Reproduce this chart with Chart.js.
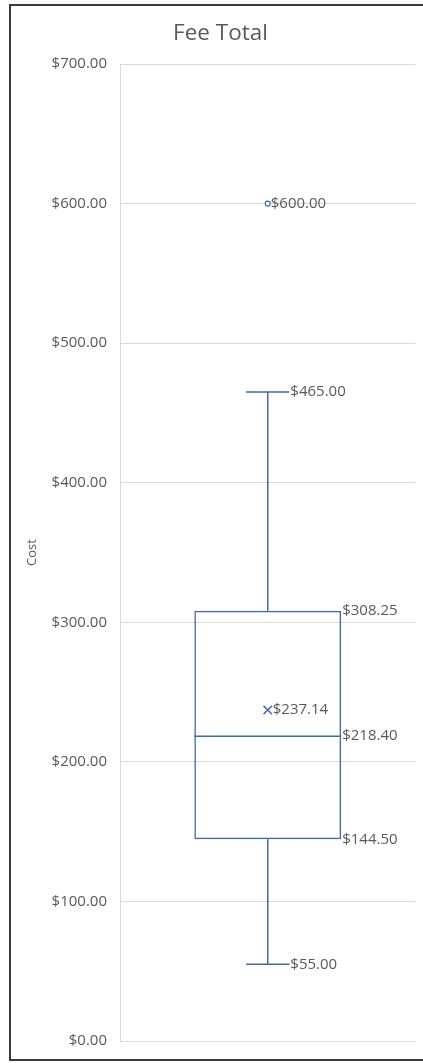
<!DOCTYPE html>
<html>
<head>
<meta charset="utf-8">
<title>Fee Total</title>
<script src="https://cdn.jsdelivr.net/npm/chart.js@4.4.0/dist/chart.umd.min.js"></script>
<style>
  html, body { margin: 0; background: #fff; overflow: hidden; }
  #frame { position: absolute; left: 9px; top: 4px; width: 500px; height: 1053px; border: 2px solid #3c3c3c; }
  #wrap { position: absolute; left: 0; top: 0; width: 423px; height: 1063px; }
</style>
</head>
<body>
<div id="frame"></div>
<div id="wrap"><canvas id="chart"></canvas></div>
<script>
// box plot values
var categories = ["Fee Total"];
var minWhisker = [55.00];
var quartile1 = [144.50];
var medians = [218.40];
var quartile3 = [308.25];
var maxWhisker = [465.00];
var means = [237.14];
var outliers = [600.00];
var yTicks = [0, 100, 200, 300, 400, 500, 600, 700];

var blue = "#4169a8";
var grey = "#595959";
var fontFam = "'Open Sans', 'DejaVu Sans', sans-serif";

function money(v) {
    return "$" + v.toFixed(2);
}

// whiskers, median line and value labels, placed with the chart's own scales
var boxPlugin = {
    id: "boxWhiskers",
    afterDatasetsDraw: function(chart) {
        var ctx = chart.ctx;
        var y = chart.scales.y;
        var bars = chart.getDatasetMeta(0).data;
        ctx.save();
        for (var i = 0; i < bars.length; i++) {
            var bar = bars[i];
            var cx = bar.x;
            var half = bar.width / 2;
            var cap = bar.width * 0.147;
            var yMin = y.getPixelForValue(minWhisker[i]);
            var yQ1 = y.getPixelForValue(quartile1[i]);
            var yMed = y.getPixelForValue(medians[i]);
            var yQ3 = y.getPixelForValue(quartile3[i]);
            var yMax = y.getPixelForValue(maxWhisker[i]);

            ctx.strokeStyle = blue;
            ctx.lineWidth = 1.5;
            ctx.beginPath();
            ctx.moveTo(cx, yQ3); ctx.lineTo(cx, yMax);
            ctx.moveTo(cx - cap, yMax); ctx.lineTo(cx + cap, yMax);
            ctx.moveTo(cx, yQ1); ctx.lineTo(cx, yMin);
            ctx.moveTo(cx - cap, yMin); ctx.lineTo(cx + cap, yMin);
            ctx.moveTo(cx - half, yMed); ctx.lineTo(cx + half, yMed);
            ctx.stroke();

            ctx.fillStyle = grey;
            ctx.font = "15px " + fontFam;
            ctx.textBaseline = "middle";
            ctx.textAlign = "left";
            ctx.fillText(money(maxWhisker[i]), cx + cap + 1, yMax);
            ctx.fillText(money(minWhisker[i]), cx + cap + 1, yMin);
            ctx.fillText(money(quartile3[i]), cx + half + 1, yQ3);
            ctx.fillText(money(medians[i]), cx + half + 1, yMed);
            ctx.fillText(money(quartile1[i]), cx + half + 1, yQ1);
            ctx.fillText(money(means[i]), cx + 5, y.getPixelForValue(means[i]));
            ctx.fillText(money(outliers[i]), cx + 3, y.getPixelForValue(outliers[i]));
        }
        ctx.restore();
    }
};

var boxRanges = categories.map(function(c, i) { return [quartile1[i], quartile3[i]]; });

var chart = new Chart(document.getElementById("chart"), {
    type: "bar",
    data: {
        labels: categories,
        datasets: [
            {
                label: "Box",
                data: boxRanges,
                backgroundColor: "rgba(255,255,255,0)",
                borderColor: blue,
                borderWidth: 1.5,
                borderSkipped: false,
                categoryPercentage: 1,
                barPercentage: 0.497
            },
            {
                type: "line",
                label: "Mean",
                data: means,
                showLine: false,
                pointStyle: "crossRot",
                pointRadius: 6,
                pointBorderWidth: 1.5,
                borderColor: blue
            },
            {
                type: "line",
                label: "Outlier",
                data: outliers,
                showLine: false,
                pointStyle: "circle",
                pointRadius: 2.5,
                pointBorderWidth: 1.2,
                borderColor: blue,
                backgroundColor: "#fff"
            }
        ]
    },
    options: {
        responsive: true,
        maintainAspectRatio: false,
        animation: false,
        layout: { padding: { left: 22, right: 4, top: 0, bottom: 22 } },
        plugins: {
            legend: { display: false },
            tooltip: { enabled: false },
            title: {
                display: true,
                text: "Fee Total",
                color: grey,
                font: { family: fontFam, size: 22.5, weight: "normal" },
                padding: { top: 20, bottom: 17 }
            }
        },
        scales: {
            x: { display: false },
            y: {
                min: 0,
                max: 700,
                afterBuildTicks: function(s) {
                    s.ticks = yTicks.map(function(v) { return { value: v }; });
                },
                afterFit: function(s) { s.width = 98; },
                ticks: {
                    color: grey,
                    padding: 13,
                    font: { family: fontFam, size: 15 },
                    callback: function(v) { return money(v); }
                },
                grid: { color: "#d9d9d9", drawTicks: false },
                border: { display: true, color: "#d9d9d9" },
                title: {
                    display: true,
                    text: "Cost",
                    color: grey,
                    font: { family: fontFam, size: 13 },
                    padding: { top: 2, bottom: 2 }
                }
            }
        }
    },
    plugins: [boxPlugin]
});
</script>
</body>
</html>
